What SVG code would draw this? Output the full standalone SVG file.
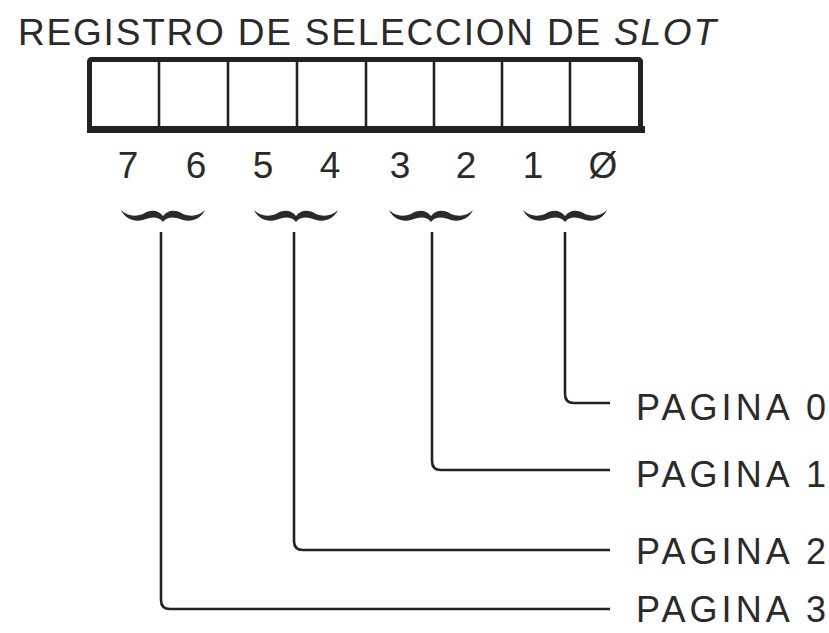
<svg xmlns="http://www.w3.org/2000/svg" width="829" height="633" viewBox="0 0 829 633">
<style>
  text { font-family: "Liberation Sans", Arial, sans-serif; fill: #2a2a2a; }
  .title { font-size: 37px; }
  .bit { font-size: 37px; text-anchor: middle; }
  .lbl { font-size: 36px; }
  .wire { fill: none; stroke: #222; stroke-width: 2.6; }
  .div { stroke: #222; stroke-width: 2.6; }
  .brace { fill: #2a2a2a; }
</style>
<defs>
  <path id="tilde" d="M-42,-8 C-36,-2 -28,-1 -20,-4 C-13,-8 -6,-9 0,-2 C6,-9 13,-8 20,-4 C28,-1 36,-2 42,-8 C37,2 28,4 20,2 C12,-1 5,-2 0,4 C-5,-2 -12,-1 -20,2 C-28,4 -37,2 -42,-8 Z"/>
</defs>
<rect width="829" height="633" fill="#ffffff"/>
<g id="title">
  <text class="title" x="18" y="45" textLength="698" lengthAdjust="spacing">REGISTRO DE SELECCION DE <tspan font-style="italic">SLOT</tspan></text>
</g>
<g id="register">
  <rect x="89.5" y="59.5" width="551" height="69" fill="none" stroke="#222" stroke-width="5" rx="2"/>
  <rect x="87" y="126" width="558" height="7" fill="#222"/>
  <line class="div" x1="159" y1="60" x2="159" y2="128"/>
  <line class="div" x1="228" y1="60" x2="228" y2="128"/>
  <line class="div" x1="297" y1="60" x2="297" y2="128"/>
  <line class="div" x1="366" y1="60" x2="366" y2="128" stroke-width="4"/>
  <line class="div" x1="434" y1="60" x2="434" y2="128"/>
  <line class="div" x1="502" y1="60" x2="502" y2="128"/>
  <line class="div" x1="570" y1="60" x2="570" y2="128"/>
</g>
<g id="bits">
  <text class="bit" x="128" y="178">7</text>
  <text class="bit" x="196" y="178">6</text>
  <text class="bit" x="263" y="178">5</text>
  <text class="bit" x="330" y="178">4</text>
  <text class="bit" x="400" y="178">3</text>
  <text class="bit" x="466" y="178">2</text>
  <text class="bit" x="533" y="178">1</text>
  <text class="bit" x="603" y="178">Ø</text>
</g>
<g id="braces">
  <use href="#tilde" class="brace" transform="translate(163,218)"/>
  <use href="#tilde" class="brace" transform="translate(296,218)"/>
  <use href="#tilde" class="brace" transform="translate(431,218)"/>
  <use href="#tilde" class="brace" transform="translate(565,218)"/>
</g>
<g id="connectors">
  <path class="wire" d="M565,232 V394 Q565,403 574,403 H610"/>
  <path class="wire" d="M432,232 V461 Q432,470 441,470 H610"/>
  <path class="wire" d="M294,232 V541 Q294,550 303,550 H610"/>
  <path class="wire" d="M161,232 V600 Q161,609 170,609 H610"/>
</g>
<g id="pagina0"><text class="lbl" x="636" y="420" textLength="190" lengthAdjust="spacing">PAGINA 0</text></g>
<g id="pagina1"><text class="lbl" x="636" y="487" textLength="190" lengthAdjust="spacing">PAGINA 1</text></g>
<g id="pagina2"><text class="lbl" x="636" y="564" textLength="190" lengthAdjust="spacing">PAGINA 2</text></g>
<g id="pagina3"><text class="lbl" x="636" y="622" textLength="190" lengthAdjust="spacing">PAGINA 3</text></g>
</svg>
